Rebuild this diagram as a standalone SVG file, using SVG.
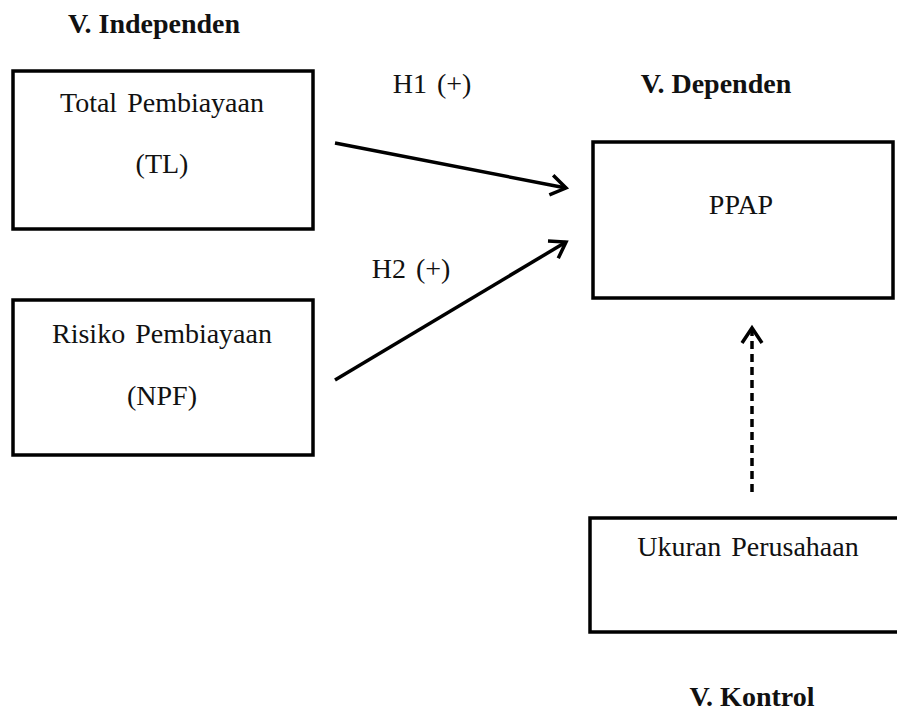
<svg xmlns="http://www.w3.org/2000/svg" width="897" height="714" viewBox="0 0 897 714">
<defs>
<style>
.box{fill:#fff;stroke:#000;stroke-width:3.5}
.t{font-family:"Liberation Serif","Times New Roman",serif;font-size:28px;fill:#111;text-anchor:middle;word-spacing:3px}
.h{font-family:"Liberation Serif","Times New Roman",serif;font-size:28px;font-weight:bold;fill:#111;text-anchor:middle}
.arr{stroke:#000;stroke-width:3.5;fill:none}
.dash{stroke-dasharray:8 5}
</style>
<marker id="ah" markerUnits="userSpaceOnUse" viewBox="-20 -12 24 24" markerWidth="24" markerHeight="24" refX="0" refY="0" orient="auto">
<path d="M-15,-10 L0,0 L-15,10" fill="none" stroke="#000" stroke-width="3.5" stroke-linejoin="miter"/>
</marker>
</defs>
<rect width="897" height="714" fill="#fff"/>
<text class="h" x="154" y="33">V. Independen</text>
<text class="h" x="716" y="93">V. Dependen</text>
<text class="h" x="752" y="706">V. Kontrol</text>
<g id="tl">
<rect class="box" x="13" y="71" width="300" height="158"/>
<text class="t" x="162" y="112">Total Pembiayaan</text>
<text class="t" x="162" y="173">(TL)</text>
</g>
<g id="npf">
<rect class="box" x="13" y="300" width="300" height="155"/>
<text class="t" x="162" y="343">Risiko Pembiayaan</text>
<text class="t" x="162" y="405">(NPF)</text>
</g>
<g id="ppap">
<rect class="box" x="593" y="142" width="300" height="156"/>
<text class="t" x="741" y="214">PPAP</text>
</g>
<g id="ukuran">
<rect class="box" x="590" y="518" width="320" height="114"/>
<text class="t" x="748" y="556">Ukuran Perusahaan</text>
</g>
<g id="connectors">
<line class="arr" x1="335" y1="143" x2="566" y2="188" marker-end="url(#ah)"/>
<line class="arr" x1="335" y1="380" x2="566" y2="242" marker-end="url(#ah)"/>
<line class="arr dash" x1="752" y1="492" x2="752" y2="328" marker-end="url(#ah)"/>
<text class="t" x="432" y="93">H1 (+)</text>
<text class="t" x="411" y="278">H2 (+)</text>
</g>
</svg>
